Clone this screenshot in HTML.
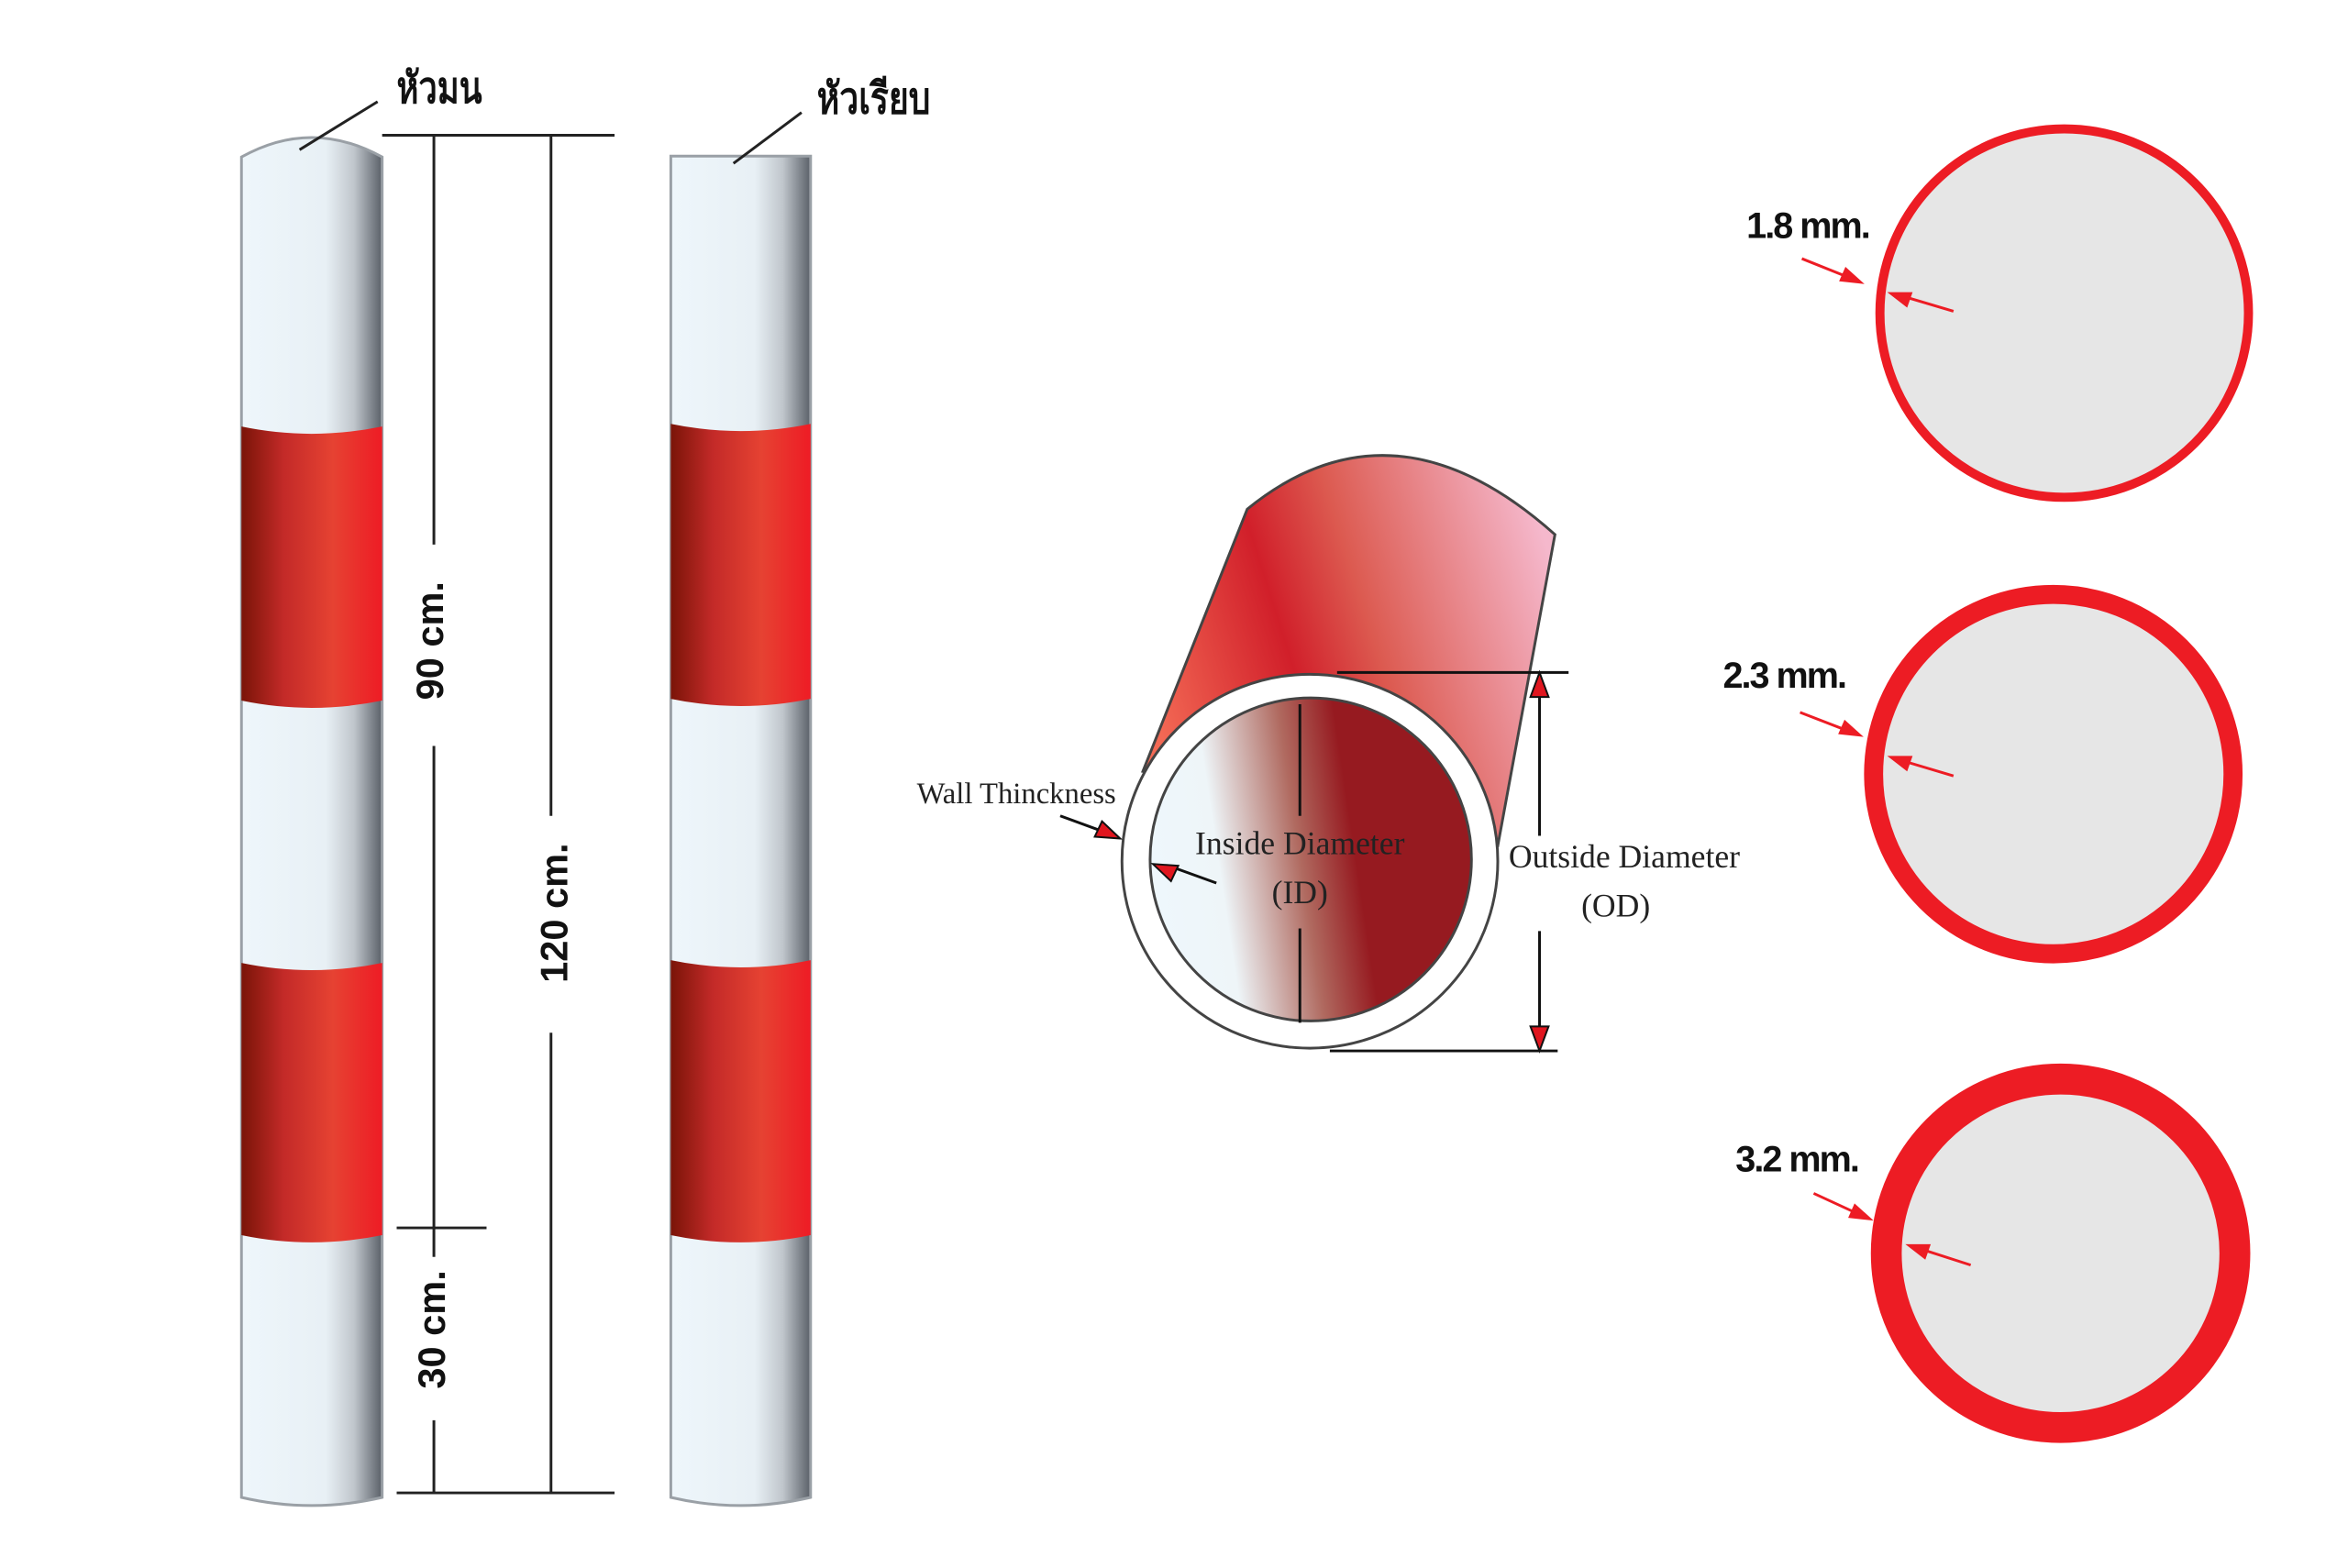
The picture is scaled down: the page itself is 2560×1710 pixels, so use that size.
<!DOCTYPE html>
<html><head><meta charset="utf-8"><style>
html,body{margin:0;padding:0;background:#fff;width:2560px;height:1710px;overflow:hidden}
svg{display:block}
.th{font-family:"Liberation Sans","Noto Sans CJK SC",sans-serif;font-weight:bold;font-size:48px;fill:#111}
.dim{font-family:"Liberation Sans",sans-serif;font-weight:bold;font-size:42px;fill:#111}
.sr{font-family:"Liberation Serif",serif;font-size:36px;fill:#222}
.mm{font-family:"Liberation Sans",sans-serif;font-weight:bold;font-size:40px;fill:#111;letter-spacing:-2px}
</style></head><body>
<svg width="2560" height="1710" viewBox="0 0 2560 1710" xmlns="http://www.w3.org/2000/svg">
<defs>
<linearGradient id="wg" x1="0" x2="1" y1="0" y2="0">
<stop offset="0" stop-color="#eef6fb"/><stop offset="0.6" stop-color="#e8f0f5"/><stop offset="0.8" stop-color="#c0c6cc"/><stop offset="1" stop-color="#5a6068"/></linearGradient>
<linearGradient id="rg" x1="0" x2="1" y1="0" y2="0">
<stop offset="0" stop-color="#7a1408"/><stop offset="0.3" stop-color="#c32a28"/><stop offset="0.65" stop-color="#e64232"/><stop offset="1" stop-color="#ee1c25"/></linearGradient>
<linearGradient id="tb" x1="0" y1="0.6" x2="1" y2="0.3">
<stop offset="0" stop-color="#f36a55"/><stop offset="0.35" stop-color="#d11f2a"/><stop offset="0.55" stop-color="#dc5a50"/><stop offset="1" stop-color="#f5b8cc"/></linearGradient>
<linearGradient id="ig" x1="0" y1="0.45" x2="1" y2="0.3">
<stop offset="0" stop-color="#eef7fc"/><stop offset="0.2" stop-color="#eef5f8"/><stop offset="0.45" stop-color="#b06a60"/><stop offset="0.62" stop-color="#961a20"/><stop offset="1" stop-color="#961a20"/></linearGradient>
</defs>
<g transform="scale(0.9897)">
<path d="M266,173 Q343,130 421,173 L421,1650 Q343,1668 266,1650 Z" fill="url(#wg)" stroke="#9aa0a6" stroke-width="3"/>
<path d="M266,470 Q343,486 421,470 L421,772 Q343,788 266,772 Z" fill="url(#rg)"/>
<path d="M266,1061 Q343,1077 421,1061 L421,1361 Q343,1377 266,1361 Z" fill="url(#rg)"/>
<path d="M739,172 L893,172 L893,1650 Q816,1668 739,1650 Z" fill="url(#wg)" stroke="#9aa0a6" stroke-width="3"/>
<path d="M739,467 Q816,483 893,467 L893,770 Q816,786 739,770 Z" fill="url(#rg)"/>
<path d="M739,1058 Q816,1074 893,1058 L893,1361 Q816,1377 739,1361 Z" fill="url(#rg)"/>

<line x1="416" y1="112" x2="330" y2="165" stroke="#222" stroke-width="3"/>
<text x="437" y="113" class="th" textLength="94" lengthAdjust="spacingAndGlyphs">หัวมน</text>
<line x1="883" y1="124" x2="808" y2="180" stroke="#222" stroke-width="3"/>
<text x="900" y="125" class="th" textLength="125" lengthAdjust="spacingAndGlyphs">หัวเรียบ</text>

<g stroke="#222" stroke-width="3">
<line x1="421" y1="149" x2="677" y2="149"/>
<line x1="437" y1="1353" x2="536" y2="1353"/>
<line x1="437" y1="1645" x2="677" y2="1645"/>
<line x1="478" y1="149" x2="478" y2="600"/>
<line x1="478" y1="822" x2="478" y2="1353"/>
<line x1="478" y1="1353" x2="478" y2="1385"/>
<line x1="478" y1="1565" x2="478" y2="1645"/>
<line x1="607" y1="149" x2="607" y2="899"/>
<line x1="607" y1="1138" x2="607" y2="1645"/>
</g>
<text class="dim" transform="translate(488,706) rotate(-90)" text-anchor="middle">90 cm.</text>
<text class="dim" transform="translate(490,1465) rotate(-90)" text-anchor="middle">30 cm.</text>
<text class="dim" transform="translate(625,1006) rotate(-90)" text-anchor="middle">120 cm.</text>

<path d="M1259,850 L1374,561 Q1535,430 1713,589 L1650,932 Z" fill="url(#tb)" stroke="#444" stroke-width="3"/>
<ellipse cx="1443" cy="949" rx="207" ry="206" fill="#fff" stroke="#444" stroke-width="3"/>
<ellipse cx="1444" cy="947" rx="177" ry="178" fill="url(#ig)" stroke="#444" stroke-width="3"/>
<g stroke="#111" stroke-width="3">
<line x1="1432" y1="776" x2="1432" y2="899"/>
<line x1="1432" y1="1023" x2="1432" y2="1127"/>
<line x1="1473" y1="741" x2="1728" y2="741"/>
<line x1="1465" y1="1158" x2="1716" y2="1158"/>
<line x1="1696" y1="741" x2="1696" y2="921"/>
<line x1="1696" y1="1026" x2="1696" y2="1158"/>
<line x1="1168" y1="899" x2="1220" y2="918"/>
<line x1="1340" y1="973" x2="1290" y2="955"/>
</g>
<g fill="#e0161f" stroke="#111" stroke-width="2">
<polygon points="1696,741 1686,768 1706,768"/>
<polygon points="1696,1158 1686,1131 1706,1131"/>
<polygon points="1234,924 1206,922 1214,905"/>
<polygon points="1270,952 1298,954 1290,971"/>
</g>
<text x="1010" y="885" class="sr" style="font-size:33px">Wall Thinckness</text>
<text x="1432" y="941" class="sr" text-anchor="middle">Inside Diameter</text>
<text x="1432" y="995" class="sr" text-anchor="middle">(ID)</text>
<text x="1662" y="956" class="sr">Outside Diameter</text>
<text x="1780" y="1010" class="sr" text-anchor="middle">(OD)</text>

<circle cx="2274" cy="345" r="203" fill="#e6e6e6" stroke="#ed1c24" stroke-width="10"/>
<circle cx="2262" cy="853" r="198" fill="#e6e6e6" stroke="#ed1c24" stroke-width="21"/>
<circle cx="2270" cy="1381" r="192" fill="#e6e6e6" stroke="#ed1c24" stroke-width="34"/>
<text x="1924" y="262" class="mm">1.8 mm.</text>
<text x="1898" y="758" class="mm">2.3 mm.</text>
<text x="1912" y="1291" class="mm">3.2 mm.</text>
<g stroke="#ed1c24" stroke-width="3">
<line x1="1985" y1="285" x2="2040" y2="307"/>
<line x1="2152" y1="343" x2="2095" y2="326"/>
<line x1="1983" y1="785" x2="2040" y2="807"/>
<line x1="2152" y1="855" x2="2095" y2="838"/>
<line x1="1998" y1="1315" x2="2050" y2="1339"/>
<line x1="2171" y1="1394" x2="2115" y2="1376"/>
</g>
<g fill="#ed1c24">
<polygon points="2054,313 2026,310 2033,294"/>
<polygon points="2079,322 2107,322 2101,339"/>
<polygon points="2053,812 2025,809 2032,793"/>
<polygon points="2079,833 2107,833 2101,850"/>
<polygon points="2064,1345 2036,1342 2043,1326"/>
<polygon points="2099,1371 2127,1371 2121,1388"/>
</g>
</g>
</svg>
</body></html>
